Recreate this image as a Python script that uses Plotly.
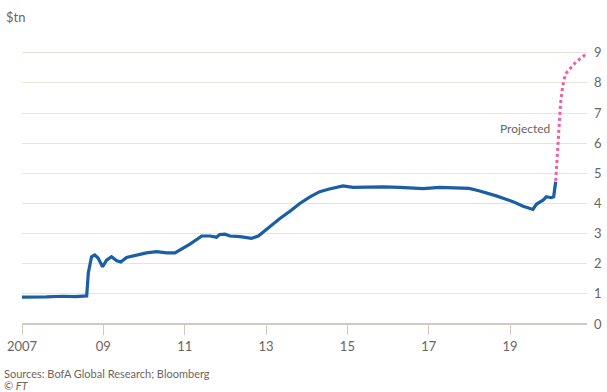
import plotly.graph_objects as go

# Actual balance sheet ($tn)
actual_years = [2007.0, 2007.3, 2007.6, 2008.0, 2008.3, 2008.59, 2008.63, 2008.71, 2008.79, 2008.87, 2008.98,
                2009.08, 2009.20, 2009.33, 2009.43, 2009.57, 2009.82, 2010.06, 2010.31, 2010.56,
                2010.76, 2010.88, 2011.13, 2011.42, 2011.62, 2011.78, 2011.86, 2011.99, 2012.11,
                2012.36, 2012.64, 2012.81, 2013.01, 2013.34, 2013.58, 2013.83, 2014.08, 2014.32,
                2014.53, 2014.65, 2014.89, 2015.14, 2015.50, 2015.88, 2016.29, 2016.86, 2017.27,
                2017.76, 2017.99, 2018.23, 2018.66, 2019.07, 2019.32, 2019.56, 2019.65, 2019.81,
                2019.89, 2020.01, 2020.07, 2020.12]
actual_values = [0.89, 0.89, 0.90, 0.92, 0.91, 0.93, 1.69, 2.23, 2.29, 2.19, 1.90,
                 2.12, 2.23, 2.10, 2.06, 2.21, 2.29, 2.36, 2.40, 2.36,
                 2.36, 2.45, 2.65, 2.92, 2.92, 2.88, 2.97, 2.98, 2.92,
                 2.90, 2.84, 2.92, 3.14, 3.50, 3.73, 4.00, 4.22, 4.39,
                 4.47, 4.50, 4.58, 4.53, 4.54, 4.55, 4.53, 4.49, 4.53,
                 4.51, 4.50, 4.42, 4.25, 4.06, 3.91, 3.80, 3.98, 4.11,
                 4.22, 4.19, 4.22, 4.72]

# Projected ($tn)
proj_years = [2020.12, 2020.14, 2020.16, 2020.19, 2020.21, 2020.24, 2020.28, 2020.32,
              2020.37, 2020.47, 2020.59, 2020.71, 2020.89]
proj_values = [4.75, 5.22, 5.77, 6.32, 6.88, 7.32, 7.76, 8.09,
               8.31, 8.48, 8.65, 8.79, 8.98]

x_tickvals = [2007, 2009, 2011, 2013, 2015, 2017, 2019]
x_ticktext = ["2007", "09", "11", "13", "15", "17", "19"]
y_tickvals = [0, 1, 2, 3, 4, 5, 6, 7, 8, 9]

FONT = "Lato, 'Open Sans', sans-serif"
GREY = "#6b6560"
GRID = "#ebe2d8"
AXIS = "#d2c9bf"

L, R, T, B = 22, 20, 50, 68
PW, PH = 607 - L - R, 392 - T - B


def px(xp):
    return (xp - L) / PW


def py(yp):
    return (392 - B - yp) / PH


fig = go.Figure()
fig.add_trace(go.Scatter(x=proj_years, y=proj_values, mode="lines",
                         line=dict(color="#ee5f9b", width=3, dash="dot"),
                         hoverinfo="skip", showlegend=False))
fig.add_trace(go.Scatter(x=actual_years, y=actual_values, mode="lines",
                         line=dict(color="#1a5ea6", width=3.2),
                         showlegend=False))

fig.update_layout(
    width=607, height=392,
    margin=dict(l=L, r=R, t=T, b=B, autoexpand=False),
    paper_bgcolor="white", plot_bgcolor="white",
    font=dict(family=FONT, color=GREY, size=13),
    xaxis=dict(range=[2007, 2020.89], tickvals=x_tickvals, ticktext=x_ticktext,
               showgrid=False, zeroline=False, showline=False, automargin=False,
               ticks="outside", ticklen=10, tickcolor=AXIS, tickwidth=1,
               tickfont=dict(size=13, color=GREY, family=FONT)),
    yaxis=dict(range=[0, 9.09], tickvals=y_tickvals, side="right",
               showgrid=True, gridcolor=GRID, gridwidth=1, automargin=False,
               zeroline=True, zerolinecolor=AXIS, zerolinewidth=1.5,
               showline=False, ticks="", ticklabelstandoff=6,
               tickfont=dict(size=13, color=GREY, family=FONT)),
    annotations=[
        dict(text="$tn", xref="paper", yref="paper", x=px(4), y=py(17),
             xanchor="left", yanchor="middle", showarrow=False,
             font=dict(size=13, color=GREY, family=FONT)),
        dict(text="Projected", xref="x", yref="y", x=2020.04, y=6.5,
             xanchor="right", yanchor="middle", showarrow=False,
             font=dict(size=12, color=GREY, family=FONT)),
        dict(text="Sources: BofA Global Research; Bloomberg", xref="paper", yref="paper",
             x=px(2), y=py(373), xanchor="left", yanchor="middle",
             showarrow=False, font=dict(size=11, color=GREY, family=FONT)),
        dict(text="<i>© FT</i>", xref="paper", yref="paper",
             x=px(2), y=py(385), xanchor="left", yanchor="middle",
             showarrow=False, font=dict(size=11, color=GREY, family=FONT)),
    ],
)

fig.write_html("out.html", config={"displayModeBar": False},
               post_script="document.body.style.margin='0';document.body.style.overflow='hidden';")
